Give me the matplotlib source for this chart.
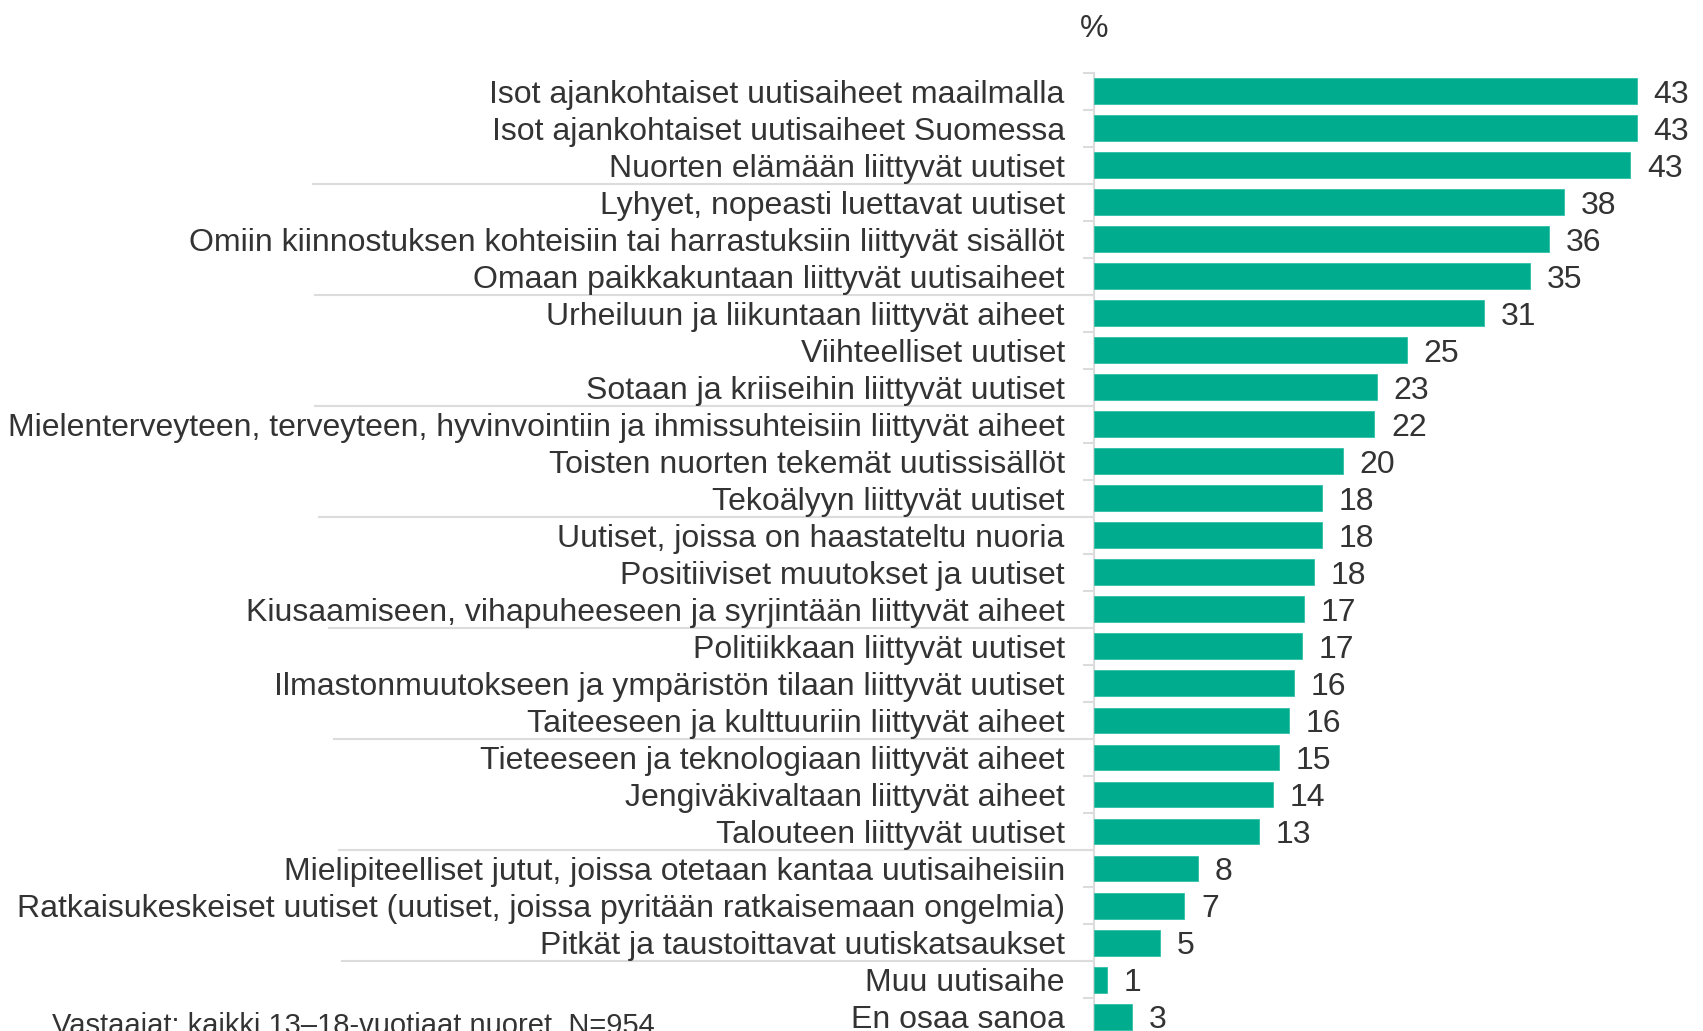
import matplotlib
matplotlib.use("Agg")
import matplotlib.pyplot as plt
from matplotlib import transforms
from matplotlib.lines import Line2D

categories = [
    "Isot ajankohtaiset uutisaiheet maailmalla",
    "Isot ajankohtaiset uutisaiheet Suomessa",
    "Nuorten elämään liittyvät uutiset",
    "Lyhyet, nopeasti luettavat uutiset",
    "Omiin kiinnostuksen kohteisiin tai harrastuksiin liittyvät sisällöt",
    "Omaan paikkakuntaan liittyvät uutisaiheet",
    "Urheiluun ja liikuntaan liittyvät aiheet",
    "Viihteelliset uutiset",
    "Sotaan ja kriiseihin liittyvät uutiset",
    "Mielenterveyteen, terveyteen, hyvinvointiin ja ihmissuhteisiin liittyvät aiheet",
    "Toisten nuorten tekemät uutissisällöt",
    "Tekoälyyn liittyvät uutiset",
    "Uutiset, joissa on haastateltu nuoria",
    "Positiiviset muutokset ja uutiset",
    "Kiusaamiseen, vihapuheeseen ja syrjintään liittyvät aiheet",
    "Politiikkaan liittyvät uutiset",
    "Ilmastonmuutokseen ja ympäristön tilaan liittyvät uutiset",
    "Taiteeseen ja kulttuuriin liittyvät aiheet",
    "Tieteeseen ja teknologiaan liittyvät aiheet",
    "Jengiväkivaltaan liittyvät aiheet",
    "Talouteen liittyvät uutiset",
    "Mielipiteelliset jutut, joissa otetaan kantaa uutisaiheisiin",
    "Ratkaisukeskeiset uutiset (uutiset, joissa pyritään ratkaisemaan ongelmia)",
    "Pitkät ja taustoittavat uutiskatsaukset",
    "Muu uutisaihe",
    "En osaa sanoa",
]
values = [43.4, 43.4, 42.9, 37.6, 36.4, 34.9, 31.2, 25.0, 22.6, 22.4, 19.9, 18.2,
          18.2, 17.6, 16.8, 16.6, 16.0, 15.6, 14.8, 14.3, 13.2, 8.3, 7.2, 5.3, 1.0, 3.0]
value_labels = ["43", "43", "43", "38", "36", "35", "31", "25", "23", "22", "20", "18",
                "18", "18", "17", "17", "16", "16", "15", "14", "13", "8", "7", "5", "1", "3"]
unit_label = "%"
footnote = "Vastaajat: kaikki 13–18-vuotiaat nuoret, N=954"
group_size = 3

W, H = 1703, 1031
plt.rcParams['font.family'] = ['Liberation Sans', 'DejaVu Sans']
fig = plt.figure(figsize=(W / 100, H / 100), dpi=100)
fig.patch.set_facecolor('white')

ax_left, ax_right = 1094 / W, 1694 / W
ax_top, ax_bot = 72.7 / H, 1035.1 / H
ax = fig.add_axes([ax_left, 1 - ax_bot, ax_right - ax_left, ax_bot - ax_top])

n = len(categories)
y = list(range(n))
bar_color = '#00AC8E'
text_color = '#333333'
grid_color = '#DCDCDC'

ax.barh(y, values, height=0.7, color=bar_color, edgecolor='#2FC0A6', linewidth=0.6, zorder=3)
ax.set_xlim(0, 48)
ax.set_ylim(n - 0.5, -0.5)
for s in ['top', 'right', 'bottom']:
    ax.spines[s].set_visible(False)
ax.spines['left'].set_color(grid_color)
ax.spines['left'].set_linewidth(1.5)
ax.set_xticks([])
ax.set_yticks(y)
ax.set_yticklabels(categories, fontsize=23, color=text_color)
ax.tick_params(axis='y', which='major', length=0, pad=21)
ax.set_yticks([i + 0.5 for i in range(-1, n)], minor=True)
ax.tick_params(axis='y', which='minor', length=8, width=1.5, color=grid_color)

for yi, v, lab in zip(y, values, value_labels):
    ax.annotate(lab, (v, yi), xytext=(17, 0), textcoords='offset pixels',
                ha='left', va='center_baseline', fontsize=23, color=text_color)

# group separator lines
trans = transforms.blended_transform_factory(fig.transFigure, ax.transData)
bounds = [i * group_size - 0.5 for i in range(1, (n - 1) // group_size + 1)]
starts = [313, 315, 315, 319, 329, 334, 339, 342]
for b, sx in zip(bounds, starts):
    fig.add_artist(Line2D([sx / W, 1688 / W], [b, b], transform=trans,
                          color=grid_color, linewidth=1.5, zorder=0))

fig.text(1094 / W, 1 - 29 / H, unit_label, ha='center', va='center',
         fontsize=23, color=text_color)
fig.text(52 / W, 1 - 1034 / H, footnote, ha='left', va='baseline',
         fontsize=21, color=text_color)

fig.savefig('out.png', dpi=100, facecolor='white')
